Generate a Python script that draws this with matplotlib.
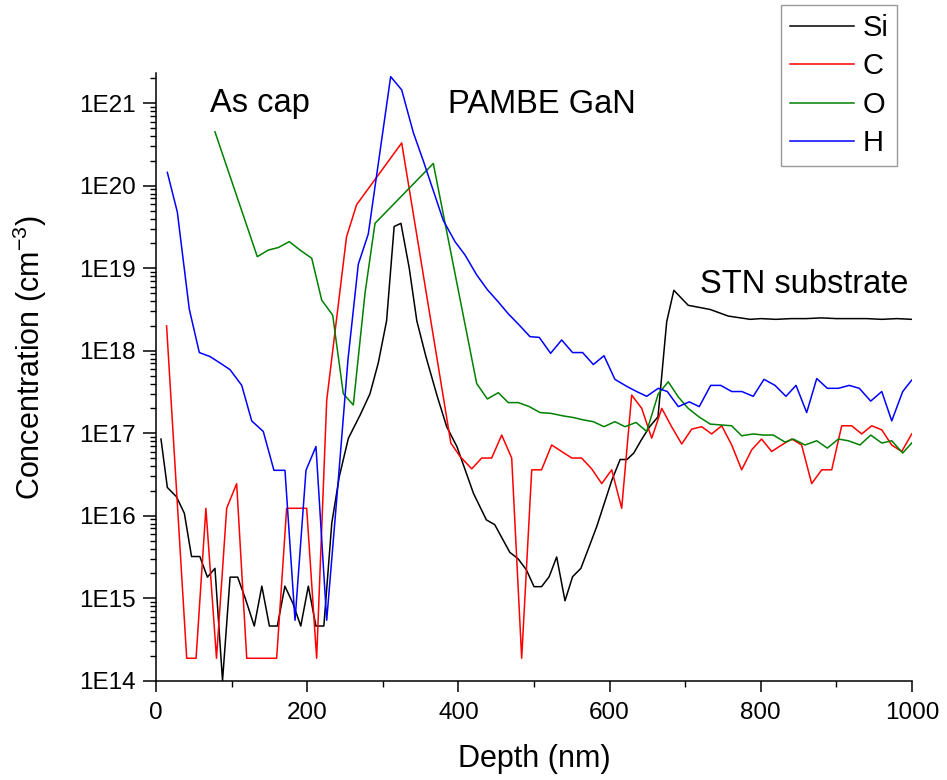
import matplotlib
matplotlib.use("Agg")
import matplotlib.pyplot as plt
from matplotlib.ticker import FixedLocator, LogLocator, FuncFormatter, MultipleLocator, NullFormatter
import numpy as np

plt.rcParams['font.family'] = ['Liberation Sans', 'DejaVu Sans']
plt.rcParams['mathtext.fontset'] = 'custom'
plt.rcParams['mathtext.rm'] = 'Liberation Sans'
plt.rcParams['mathtext.it'] = 'Liberation Sans:italic'
plt.rcParams['mathtext.bf'] = 'Liberation Sans:bold'

# ---------------- data ----------------
depth_si = [6.6, 15, 27, 37.5, 47, 58, 68, 78, 88, 98, 108, 118, 130, 140, 150, 160.5,
            170.5, 181, 191.5, 201.5, 211.5, 222, 232.5, 242.5, 254.5, 270, 283, 294, 305,
            315, 324, 335, 345, 357, 372, 384.5, 398, 420, 437, 448, 468, 479, 490, 500,
            510, 520, 530, 541, 551, 562, 572, 583, 603, 614, 623, 632, 642, 653, 664,
            675.5, 685, 704, 715, 733, 757, 786, 800, 820, 840, 860, 880, 900, 920, 940,
            960, 980, 1000]
conc_si = [8.5e16, 2.2e16, 1.7e16, 1.07e16, 3.2e15, 3.2e15, 1.8e15, 2.3e15, 1.0e14, 1.8e15,
           1.8e15, 1.0e15, 4.6e14, 1.4e15, 4.6e14, 4.6e14, 1.4e15, 8.7e14, 4.6e14, 1.4e15,
           4.6e14, 4.6e14, 8.1e15, 3.0e16, 8.7e16, 1.66e17, 3.0e17, 7.1e17, 2.3e18, 3.2e19,
           3.5e19, 1.0e19, 2.3e18, 8.5e17, 2.8e17, 1.2e17, 6.9e16, 1.86e16, 8.9e15, 7.8e15,
           3.6e15, 3.0e15, 2.2e15, 1.38e15, 1.38e15, 1.82e15, 3.16e15, 9.3e14, 1.82e15,
           2.3e15, 4.0e15, 7.4e15, 2.7e16, 4.8e16, 4.8e16, 5.75e16, 8.3e16, 1.2e17, 1.58e17,
           2.24e18, 5.4e18, 3.55e18, 3.4e18, 3.16e18, 2.63e18, 2.4e18, 2.45e18, 2.4e18,
           2.45e18, 2.45e18, 2.5e18, 2.45e18, 2.45e18, 2.45e18, 2.4e18, 2.45e18, 2.4e18]

depth_c = [14, 40.6, 53, 66, 80, 93.5, 106.7, 120, 133, 146, 159.6, 172.8, 186, 199.3,
           212.5, 225.8, 252, 265.4, 325, 390, 402, 417.6, 430.8, 444, 457.3, 470.5, 483.7,
           497, 510, 523.4, 536.6, 550, 563, 576.3, 589.6, 602.8, 616, 629.2, 642.5, 655.7,
           669, 682, 695.4, 708.6, 721.8, 735, 748.3, 761.5, 774.7, 788, 801, 814.4, 827.6,
           840.9, 854, 867.3, 880.6, 893.8, 907, 920.2, 933.5, 946.7, 960, 973.1, 986.4, 999.6]
conc_c = [2.0e18, 1.87e14, 1.87e14, 1.23e16, 1.87e14, 1.23e16, 2.45e16, 1.87e14, 1.87e14,
          1.87e14, 1.87e14, 1.23e16, 1.23e16, 1.23e16, 1.87e14, 2.5e17, 2.4e19, 5.9e19,
          3.3e20, 7.6e16, 5.25e16, 3.7e16, 5.0e16, 5.0e16, 9.5e16, 5.0e16, 1.87e14, 3.6e16,
          3.6e16, 7.2e16, 6.0e16, 5.0e16, 5.0e16, 3.7e16, 2.45e16, 3.6e16, 1.23e16, 2.9e17,
          2.0e17, 8.7e16, 2.0e17, 1.2e17, 7.4e16, 1.12e17, 1.2e17, 9.8e16, 1.23e17, 7.2e16,
          3.6e16, 6.3e16, 8.5e16, 6.0e16, 7.2e16, 8.5e16, 7.2e16, 2.45e16, 3.6e16, 3.6e16,
          1.23e17, 1.23e17, 9.8e16, 1.23e17, 1.1e17, 7.2e16, 6.0e16, 9.8e16]

depth_o = [78, 134, 148.6, 161.8, 176.3, 190.5, 206, 219.2, 233.7, 247.8, 261, 276.5, 289.7,
           366.8, 424.2, 438.3, 452.8, 466, 479.3, 493.8, 508, 522.5, 538.8, 552, 565.2,
           578.4, 592.6, 607, 620.4, 635, 649, 664.4, 677.6, 690.9, 704, 717.3, 733, 747,
           761.5, 774.7, 790, 803, 816.5, 832, 843, 858.5, 874, 888, 902.6, 915.7, 931.2,
           945.4, 960, 973.2, 987.7, 999.6]
conc_o = [4.5e20, 1.38e19, 1.66e19, 1.78e19, 2.1e19, 1.66e19, 1.32e19, 4.1e18, 2.7e18,
          3.0e17, 2.2e17, 5.0e18, 3.5e19, 1.86e20, 4.0e17, 2.6e17, 3.1e17, 2.35e17, 2.35e17,
          2.1e17, 1.78e17, 1.74e17, 1.62e17, 1.55e17, 1.45e17, 1.38e17, 1.2e17, 1.38e17,
          1.2e17, 1.35e17, 1.05e17, 3.0e17, 4.2e17, 2.75e17, 2.0e17, 1.6e17, 1.29e17,
          1.26e17, 1.23e17, 9.3e16, 9.8e16, 9.5e16, 9.5e16, 7.8e16, 8.5e16, 7.2e16, 8.1e16,
          6.6e16, 8.5e16, 8.1e16, 7.2e16, 9.5e16, 7.6e16, 8.1e16, 5.75e16, 7.6e16]

depth_h = [15, 28.2, 44, 57.3, 71.4, 84.7, 97.9, 113.4, 126.6, 141.9, 156, 170.6, 183.9,
           198.4, 211.6, 225.8, 240.5, 254, 267.6, 280.8, 310.4, 325, 340.4, 353.6, 380,
           395.5, 408.7, 424.2, 438.3, 452.8, 466, 479.3, 494.7, 507, 522, 536.6, 551, 564.3,
           578.5, 592.6, 607, 622.6, 635.8, 649, 664.4, 676.3, 690.9, 705.4, 718.6, 733.7,
           747, 761.5, 775, 790, 804.2, 818.8, 833.3, 846.6, 860.7, 874, 888, 902.6, 917,
           930.3, 945.4, 960, 973.2, 987.7, 999.6]
conc_h = [1.45e20, 4.8e19, 3.2e18, 9.5e17, 8.5e17, 7.1e17, 5.9e17, 3.8e17, 1.41e17, 1.05e17,
          3.55e16, 3.55e16, 5.4e14, 3.55e16, 6.9e16, 5.4e14, 2.3e16, 7.9e17, 1.12e19, 2.6e19,
          2.1e21, 1.45e21, 4.4e20, 2.0e20, 3.8e19, 2.1e19, 1.45e19, 8.3e18, 5.5e18, 3.9e18,
          2.8e18, 2.1e18, 1.48e18, 1.45e18, 9.3e17, 1.35e18, 9.5e17, 9.5e17, 6.8e17, 8.7e17,
          4.5e17, 3.7e17, 3.2e17, 2.8e17, 3.5e17, 3.2e17, 2.1e17, 2.4e17, 2.1e17, 3.8e17,
          3.8e17, 3.2e17, 3.2e17, 2.8e17, 4.5e17, 3.8e17, 2.8e17, 3.8e17, 1.78e17, 4.6e17,
          3.5e17, 3.5e17, 3.8e17, 3.5e17, 2.45e17, 3.2e17, 1.41e17, 3.2e17, 4.4e17]

series_labels = ["Si", "C", "O", "H"]
series_colors = ["#000000", "#FF0000", "#008000", "#0000FF"]
ytick_exponents = [14, 15, 16, 17, 18, 19, 20, 21]

# ---------------- figure ----------------
W, H = 947, 780
fig = plt.figure(figsize=(W / 100, H / 100), dpi=100)
ax = fig.add_axes([156 / W, (H - 680.7) / H, (912 - 156) / W, (680.7 - 72.7) / H])

lines = []
for (d, c), lab, col in zip([(depth_si, conc_si), (depth_c, conc_c), (depth_o, conc_o),
                             (depth_h, conc_h)], series_labels, series_colors):
    ln, = ax.plot(d, c, color=col, lw=1.1, label=lab)
    lines.append(ln)

ax.set_yscale('log')
ax.set_xlim(0, 1000)
ax.set_ylim(1e14, 10 ** 21.37)

ax.xaxis.set_major_locator(MultipleLocator(200))
ax.xaxis.set_minor_locator(MultipleLocator(100))
ax.yaxis.set_major_locator(FixedLocator([10.0 ** e for e in ytick_exponents]))
ax.yaxis.set_minor_locator(LogLocator(base=10, subs=np.arange(2, 10), numticks=20))
ax.yaxis.set_major_formatter(FuncFormatter(lambda v, p: "1E%d" % int(round(np.log10(v)))))
ax.yaxis.set_minor_formatter(NullFormatter())

for s in ['top', 'right']:
    ax.spines[s].set_visible(False)
for s in ['left', 'bottom']:
    ax.spines[s].set_linewidth(1.1)

ax.tick_params(axis='x', which='major', direction='out', length=8, width=1.1,
               labelsize=17.5, pad=7.5)
ax.tick_params(axis='y', which='major', direction='out', length=9.5, width=1.1,
               labelsize=17.5, pad=5)
ax.tick_params(which='minor', direction='out', length=4.3, width=1.0)

ax.set_xlabel("Depth (nm)", fontsize=22, labelpad=14)
ax.set_ylabel("Concentration (cm$^{-3}$)", fontsize=22)
ax.yaxis.set_label_coords(-0.1415, 0.532)

ax.text(71.4, 10 ** 20.89, "As cap", fontsize=23.5, ha='left', va='baseline')
ax.text(386, 10 ** 20.88, "PAMBE GaN", fontsize=23.5, ha='left', va='baseline')
ax.text(719.6, 10 ** 18.70, "STN substrate", fontsize=23.5, ha='left', va='baseline')

leg = fig.legend(lines, series_labels, loc='upper left',
                 bbox_to_anchor=(781 / W, 1 - 5 / H), bbox_transform=fig.transFigure,
                 borderaxespad=0, fontsize=21, frameon=True, fancybox=False,
                 edgecolor='#808080', handlelength=2.2, handletextpad=0.3,
                 borderpad=0.3, labelspacing=0.36)
leg.get_frame().set_linewidth(1.0)

fig.savefig("out.png", dpi=100)
